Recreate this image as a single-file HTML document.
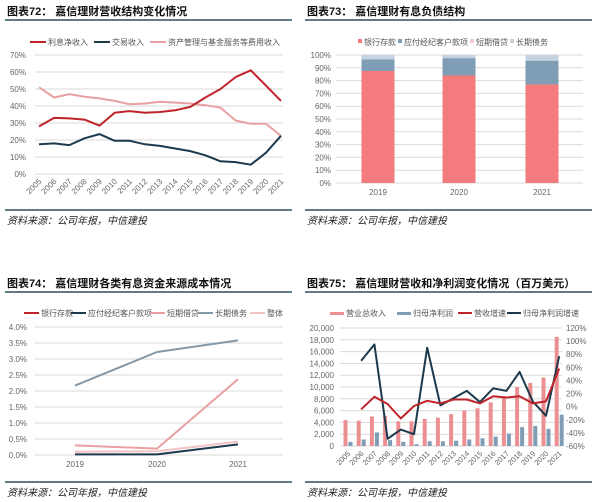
<!DOCTYPE html>
<html><head><meta charset="utf-8"><style>
body{margin:0;background:#fff;width:600px;height:502px;overflow:hidden;font-family:"Liberation Sans","Noto Sans CJK SC",sans-serif}
svg{display:block}
</style></head><body>
<svg id="s" width="600" height="502" xmlns="http://www.w3.org/2000/svg" font-family="Liberation Sans, Noto Sans CJK SC, sans-serif"></svg>
<script>
var o='';
function t(x,y,s,sz,c,a,ex){o+='<text x="'+x+'" y="'+y+'" font-size="'+sz+'" fill="'+c+'" text-anchor="'+(a||'start')+'" '+(ex||'')+'>'+s+'</text>';}
function l(x1,y1,x2,y2,c,w){o+='<line x1="'+x1+'" y1="'+y1+'" x2="'+x2+'" y2="'+y2+'" stroke="'+c+'" stroke-width="'+(w||1)+'"/>';}
function r(x,y,w,h,c){o+='<rect x="'+x+'" y="'+y+'" width="'+w+'" height="'+h+'" fill="'+c+'"/>';}
function pl(p,c,w){o+='<polyline fill="none" stroke="'+c+'" stroke-width="'+w+'" stroke-linejoin="round" points="'+p.join(' ')+'"/>';}
function head(x,y,title,ly,x2){t(x+2,y,title,11,'#111','start','font-weight="bold"');l(x,ly,x2,ly,'#2f4f5f',1.5);}
function foot(x,y,x2){l(x,y,x2,y,'#2f4f5f',1.5);t(x+2,y+14,'资料来源：公司年报，中信建投',10,'#222','start','font-style="italic"');}
var RED='#c0242b',NAVY='#1d3a4d',PINK='#e9a0a3',BLUE='#7f9db5',GB='#8499a8',LP='#f3c2c4',LB='#c5d3e0';
// chart 72
head(5,15,'图表72：  嘉信理财营收结构变化情况',20,292);
l(30,42,46,42,RED,2);t(48,45,'利息净收入',8,'#555');
l(94,42,110,42,NAVY,2);t(112,45,'交易收入',8,'#555');
l(150,42,166,42,PINK,2);t(168,45,'资产管理与基金服务等费用收入',8,'#555');
for(var i=0;i<=7;i++){var y=174-i*17;l(35,y,283,y,'#d9d9d9');t(26,y+3,i*10+'%',8,'#666','end');}
var yrs=[];for(i=2005;i<=2021;i++)yrs.push(i);
function X1(i){return 39+i*15.125;}
yrs.forEach(function(yr,i){t(X1(i)+3,182,yr,8,'#666','end','transform="rotate(-45 '+(X1(i)+3)+' 182)"');});
function ser(d,X,Y){return d.map(function(v,i){return X(i).toFixed(1)+','+Y(v).toFixed(1);});}
var Y1=function(v){return 174-v*1.7;};
pl(ser([51,45,47,45.5,44.5,43,41,41.5,42.5,42,41.5,40.5,39,31.5,29.5,29.5,22.5],X1,Y1),PINK,2);
pl(ser([17.5,18,17,21,23.5,19.5,19.5,17.5,16.5,15,13.5,11,7.5,7,5.5,12.5,22.5],X1,Y1),NAVY,2);
pl(ser([28,33,32.7,32,28.5,36,37,36,36.5,37.5,39.5,45,50,57,61,52,43],X1,Y1),RED,2);
foot(5,210,292);
// chart 73
head(305,15,'图表73：  嘉信理财有息负债结构',20,592);
var lg=[['银行存款','#f47b7d'],['应付经纪客户款项',BLUE],['短期借贷','#f6c7c8'],['长期债务',LB]];var lx=[358,398,470,510];
lg.forEach(function(g,i){r(lx[i],39,4,4,g[1]);t(lx[i]+6,45,g[0],8,'#555');});
for(i=0;i<=10;i++){var y=183-i*12.8;l(336,y,583,y,'#d9d9d9');t(331,y+3,i*10+'%',8,'#666','end');}
var Y3=function(v){return 183-v*1.28;};
[[378,87.5,96.5,2019],[459,84,97.5,2020],[542,77,95.5,2021]].forEach(function(b){
r(b[0]-16.5,Y3(100),33,Y3(b[2])-Y3(100),LB);r(b[0]-16.5,Y3(b[2]),33,Y3(b[1])-Y3(b[2]),BLUE);r(b[0]-16.5,Y3(b[1]),33,Y3(0)-Y3(b[1]),'#f47b7d');t(b[0],195,b[3],8,'#666','middle');});
foot(305,210,592);
// chart 74
head(5,287,'图表74：  嘉信理财各类有息资金来源成本情况',292,292);
var l4=[['银行存款',RED],['应付经纪客户款项',NAVY],['短期借贷',PINK],['长期债务',GB],['整体',LP]];var l4x=[24,71,150,198,250];
l4.forEach(function(g,i){l(l4x[i],313,l4x[i]+15,313,g[1],2);t(l4x[i]+17,316,g[0],8,'#555');});
for(i=0;i<=8;i++){var y=455-i*16;l(35,y,283,y,'#d9d9d9');t(27,y+3,(i*0.5).toFixed(1)+'%',8,'#666','end');}
var X4=function(i){return [75,157,238][i];},Y4=function(v){return 455-v*32;};
[2019,2020,2021].forEach(function(yr,i){t(X4(i),467,yr,8,'#666','middle');});
pl(ser([2.17,3.22,3.58],X4,Y4),GB,2);
pl(ser([0.3,0.2,2.37],X4,Y4),PINK,2);
pl(ser([0.1,0.12,0.42],X4,Y4),LP,2);
pl(ser([0.02,0.02,0.33],X4,Y4),NAVY,2);
foot(5,482,292);
// chart 75
head(305,287,'图表75：  嘉信理财营收和净利润变化情况（百万美元）',292,592);
var l5x=[330,397,458,507];
r(l5x[0],312,14,3,'#ec8f92');t(l5x[0]+16,316,'营业总收入',8,'#555');
r(l5x[1],312,14,3,BLUE);t(l5x[1]+16,316,'归母净利润',8,'#555');
l(l5x[2],313,l5x[2]+14,313,RED,2);t(l5x[2]+16,316,'营收增速',8,'#555');
l(l5x[3],313,l5x[3]+14,313,NAVY,2);t(l5x[3]+16,316,'归母净利润增速',8,'#555');
for(i=0;i<=10;i++){var y=446-i*11.8;l(340,y,562,y,'#d9d9d9');t(334,y+3,(i*2000).toLocaleString('en-US'),8,'#666','end');}
for(i=0;i<=9;i++){var y=446-i*118/9;t(566,y+3,(-60+i*20)+'%',8,'#666','start');}
var X5=function(i){return 348+i*13.2;},YL=function(v){return 446-v*0.0059;},YR=function(v){return 446-(v+60)*118/180;};
var rev=[4400,4300,5000,5100,4200,4200,4600,4800,5400,6000,6400,7400,8400,10000,10700,11600,18500];
var net=[700,1100,2300,1000,700,300,800,800,900,1100,1300,1600,2100,3200,3400,2900,5300];
yrs.forEach(function(yr,i){var x=X5(i);r(x-4.5,YL(rev[i]),4,446-YL(rev[i]),'#ec8f92');r(x+0.5,YL(net[i]),4,446-YL(net[i]),BLUE);
t(x+3,454,yr,7.5,'#666','end','transform="rotate(-45 '+(x+3)+' 454)"');});
var rg=[-4,15,4,-18,1,9,5,11,11,5,16,14,16,5,8,58],ng=[70,95,-49,-35,-42,90,2,13,24,7,28,24,53,8,-14,77];
var X5b=function(i){return X5(i+1);};
pl(ser(ng,X5b,YR),NAVY,2);
pl(ser(rg,X5b,YR),RED,2);
foot(305,482,592);
document.getElementById('s').innerHTML=o;
</script>
</body></html>
